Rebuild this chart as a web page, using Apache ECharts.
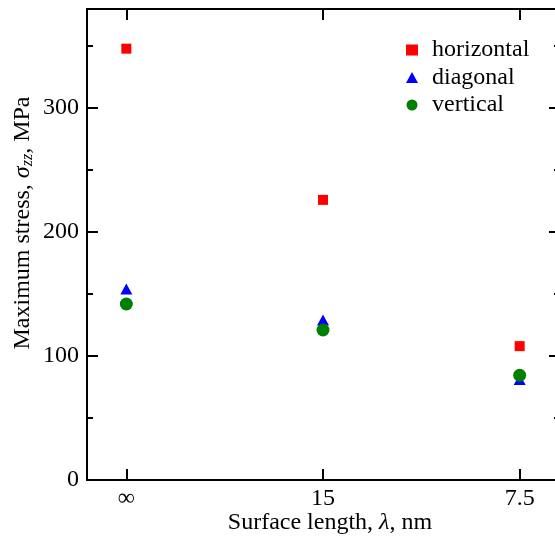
<!DOCTYPE html>
<html>
<head>
<meta charset="utf-8">
<script src="https://cdn.jsdelivr.net/npm/echarts@6/dist/echarts.min.js"></script>
<style>html,body{margin:0;padding:0;background:#fff}#c{width:555px;height:539px}</style>
</head>
<body>
<div id="c"></div>
<script>
const categories = ['\u221E', '15', '7.5'];
const seriesNames = ['horizontal', 'diagonal', 'vertical'];
const horizontal = [348, 226, 108];
const diagonal = [154, 129, 81];
const vertical = [142, 121, 84.5];
const yTicks = [0, 100, 200, 300];
const yMinorTicks = [50, 150, 250, 350];

const FONT = '"Liberation Serif", "Times New Roman", serif';
const chart = echarts.init(document.getElementById('c'));
const toPts = arr => arr.map((v, i) => [i, v]);
const catIdx = categories.map((_, i) => i);

const commonX = {
  type: 'value', min: -0.2, max: 2.2,
  splitLine: { show: false },
  axisLine: { show: true, onZero: false, lineStyle: { color: '#000', width: 2 } },
  axisTick: { show: true, inside: true, length: 11, customValues: catIdx, lineStyle: { color: '#000', width: 2 } },
  minorTick: { show: false }
};
const commonY = {
  type: 'value', min: 0, max: 380, interval: 50,
  splitLine: { show: false },
  axisLine: { show: true, onZero: false, lineStyle: { color: '#000', width: 2 } },
  axisTick: { show: false },
  minorTick: { show: false }
};

chart.setOption({
  animation: false,
  backgroundColor: '#fff',
  textStyle: { fontFamily: FONT },
  grid: { left: 87, top: 9, width: 472, height: 471, containLabel: false, outerBoundsMode: 'none' },
  xAxis: [
    Object.assign({}, commonX, {
      position: 'bottom',
      axisLabel: {
        show: true, customValues: catIdx, margin: 7,
        formatter: v => categories[Math.round(v)],
        color: '#000', fontFamily: FONT, fontSize: 24
      }
    }),
    Object.assign({}, commonX, {
      position: 'top',
      axisLabel: { show: false }
    })
  ],
  yAxis: [
    Object.assign({}, commonY, {
      position: 'left',
      axisTick: { show: true, inside: true, length: 11, customValues: yTicks, lineStyle: { color: '#000', width: 2 } },
      axisLabel: {
        show: true, customValues: yTicks, margin: 8,
        color: '#000', fontFamily: FONT, fontSize: 24
      }
    }),
    Object.assign({}, commonY, {
      position: 'right',
      axisTick: { show: true, inside: true, length: 10, customValues: yTicks, lineStyle: { color: '#000', width: 2 } },
      axisLabel: { show: false }
    }),
    Object.assign({}, commonY, {
      position: 'left', axisLine: { show: false, onZero: false },
      axisTick: { show: true, inside: true, length: 6, customValues: yMinorTicks, lineStyle: { color: '#000', width: 2 } },
      axisLabel: { show: false }
    }),
    Object.assign({}, commonY, {
      position: 'right', axisLine: { show: false, onZero: false },
      axisTick: { show: true, inside: true, length: 5, customValues: yMinorTicks, lineStyle: { color: '#000', width: 2 } },
      axisLabel: { show: false }
    })
  ],
  legend: {
    orient: 'vertical', left: 401, top: 33,
    itemWidth: 12, itemHeight: 11, itemGap: 3.5,
    textStyle: { fontFamily: FONT, fontSize: 24, color: '#000', lineHeight: 24, padding: [0, 0, 0, 9] },
    data: [
      { name: seriesNames[0], icon: 'rect' },
      { name: seriesNames[1], icon: 'triangle' },
      { name: seriesNames[2], icon: 'circle' }
    ]
  },
  graphic: [
    {
      type: 'text', x: 23, y: 223, rotation: Math.PI / 2,
      style: {
        text: '{n|Maximum stress, }{s|\u03C3}{z|zz}{n|, MPa}',
        align: 'center', verticalAlign: 'middle',
        rich: {
          n: { fontFamily: FONT, fontSize: 24, fill: '#000' },
          s: { fontFamily: FONT, fontSize: 24, fontStyle: 'italic', fill: '#000' },
          z: { fontFamily: FONT, fontSize: 16, fontStyle: 'italic', fill: '#000', padding: [10, 0, 0, 0] }
        }
      }
    },
    {
      type: 'text', x: 330, y: 523,
      style: {
        text: '{n|Surface length, }{l|\u03BB}{n|, nm}',
        align: 'center', verticalAlign: 'middle',
        rich: {
          n: { fontFamily: FONT, fontSize: 24, fill: '#000' },
          l: { fontFamily: FONT, fontSize: 24, fontStyle: 'italic', fill: '#000' }
        }
      }
    }
  ],
  series: [
    { name: seriesNames[0], type: 'scatter', symbol: 'rect', symbolSize: 10, itemStyle: { color: '#ff0000', opacity: 1 }, data: toPts(horizontal), z: 3 },
    { name: seriesNames[1], type: 'scatter', symbol: 'triangle', symbolSize: [12, 11], itemStyle: { color: '#0000ff', opacity: 1 }, data: toPts(diagonal), z: 4 },
    { name: seriesNames[2], type: 'scatter', symbol: 'circle', symbolSize: 13, itemStyle: { color: '#008000', opacity: 1 }, data: toPts(vertical), z: 5 }
  ]
});
</script>
</body>
</html>
